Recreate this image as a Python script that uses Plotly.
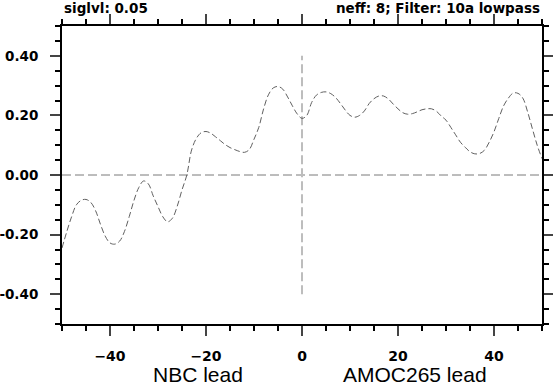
import plotly.graph_objects as go

# lag (years) and correlation values
lags = list(range(-50, 51))
corr = [
    -0.245, -0.190, -0.140, -0.100, -0.085, -0.082, -0.092, -0.120, -0.165, -0.205,
    -0.228, -0.232, -0.222, -0.190, -0.140, -0.085, -0.042, -0.020, -0.030, -0.070,
    -0.106, -0.140, -0.157, -0.145, -0.105, -0.050, 0.000, 0.084, 0.123, 0.142,
    0.146, 0.140, 0.128, 0.115, 0.102, 0.092, 0.085, 0.079, 0.076, 0.085,
    0.120, 0.160, 0.222, 0.269, 0.292, 0.297, 0.288, 0.262, 0.232, 0.205,
    0.190, 0.200, 0.243, 0.268, 0.277, 0.279, 0.273, 0.260, 0.240, 0.218,
    0.200, 0.194, 0.200, 0.215, 0.240, 0.256, 0.265, 0.265, 0.255, 0.238,
    0.222, 0.209, 0.204, 0.206, 0.212, 0.219, 0.222, 0.222, 0.214, 0.198,
    0.184, 0.160, 0.135, 0.110, 0.093, 0.078, 0.071, 0.072, 0.083, 0.110,
    0.145, 0.190, 0.232, 0.258, 0.275, 0.274, 0.258, 0.212, 0.155, 0.100,
    0.055,
]

zero_x = [-50, 50]
zero_y = [0, 0]
vline_x = [0, 0]
vline_y = [-0.4, 0.4]

x_ticks = [-40, -20, 0, 20, 40]
y_ticks = [-0.4, -0.2, 0.0, 0.2, 0.4]
y_ticklabels = ["-0.40", "-0.20", "0.00", "0.20", "0.40"]

left_title = "siglvl: 0.05"
right_title = "neff: 8; Filter: 10a lowpass"
left_xlabel = "NBC lead"
right_xlabel = "AMOC265 lead"

fig = go.Figure()
fig.add_trace(go.Scatter(x=zero_x, y=zero_y, mode="lines",
                         line=dict(color="#7a7a7a", width=1, dash="9px,4px"),
                         hoverinfo="skip", showlegend=False))
fig.add_trace(go.Scatter(x=vline_x, y=vline_y, mode="lines",
                         line=dict(color="#bdbdbd", width=2, dash="9px,4px"),
                         hoverinfo="skip", showlegend=False))
fig.add_trace(go.Scatter(x=lags, y=corr, mode="lines", line_shape="spline",
                         line=dict(color="#606060", width=1, dash="6px,3px"),
                         showlegend=False))

xtickfont = dict(family="DejaVu Sans", size=14, color="black", weight="bold")
ytickfont = dict(family="DejaVu Sans", size=13.5, color="black", weight="bold")
fig.update_xaxes(range=[-50, 50], tickvals=x_ticks, ticks="outside", ticklen=10,
                 tickwidth=2, showline=True, linecolor="black", linewidth=2,
                 mirror="ticks", showgrid=False, zeroline=False, tickfont=xtickfont,
                 ticklabelstandoff=8, automargin=False,
                 minor=dict(dtick=5, ticks="outside", ticklen=5, tickwidth=1.5,
                            tickcolor="black", showgrid=False))
fig.update_yaxes(range=[-0.5, 0.5], tickvals=y_ticks, ticktext=y_ticklabels,
                 ticks="outside", ticklen=10, tickwidth=2, showline=True,
                 linecolor="black", linewidth=2, mirror="ticks", showgrid=False,
                 zeroline=False, tickfont=ytickfont, ticklabelstandoff=9,
                 automargin=False,
                 minor=dict(dtick=0.05, ticks="outside", ticklen=5, tickwidth=1.5,
                            tickcolor="black", showgrid=False))

titlefont = dict(family="DejaVu Sans", size=13.5, color="black", weight="bold")
labelfont = dict(family="Liberation Sans", size=21, color="black")
fig.add_annotation(text=left_title, xref="paper", yref="paper", x=0, y=1.06,
                   xanchor="left", yanchor="middle", showarrow=False, font=titlefont)
fig.add_annotation(text=right_title, xref="paper", yref="paper", x=1, y=1.06,
                   xanchor="right", yanchor="middle", showarrow=False, font=titlefont)
fig.add_annotation(text=left_xlabel, xref="x", yref="paper", x=-21.7, y=-0.168,
                   xanchor="center", yanchor="middle", showarrow=False, font=labelfont)
fig.add_annotation(text=right_xlabel, xref="x", yref="paper", x=23.5, y=-0.168,
                   xanchor="center", yanchor="middle", showarrow=False, font=labelfont)

fig.update_layout(width=553, height=388, margin=dict(l=62, r=11, t=26, b=64),
                  plot_bgcolor="white", paper_bgcolor="white")
fig.write_html("out.html", config={"displayModeBar": False},
               post_script="document.body.style.margin='0';"
                           "document.body.style.overflow='hidden';")
